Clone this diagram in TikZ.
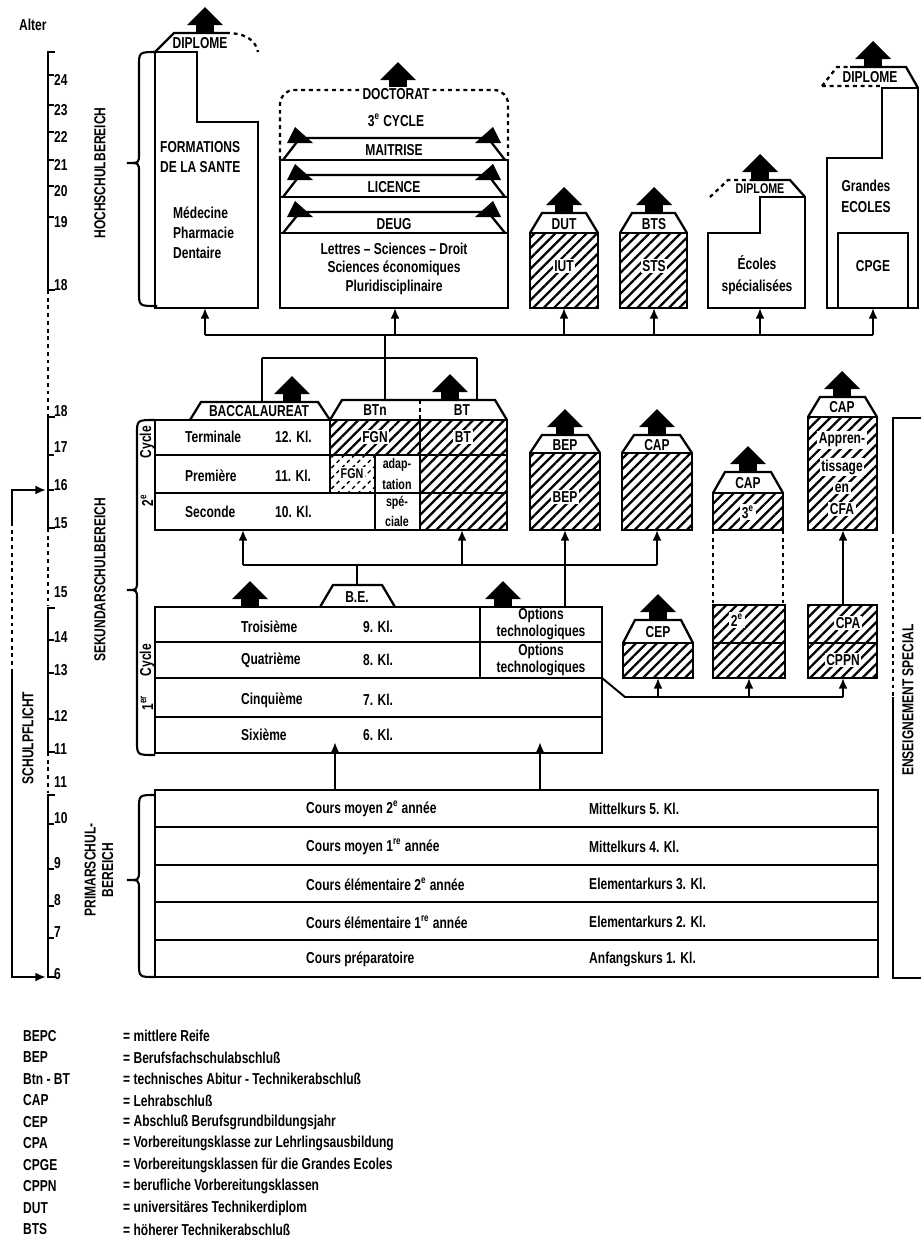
\documentclass[tikz,border=0pt]{standalone}
\usepackage{fontspec}
\setmainfont{Liberation Sans}[FakeStretch=0.76]
\usetikzlibrary{arrows.meta,patterns.meta}
\newcommand{\dfont}{\fontsize{9}{10}\selectfont\bfseries}
\newcommand{\sfont}{\fontsize{8}{9}\selectfont\bfseries}
\tikzset{
  ln/.style={line width=1.3pt},
  dln/.style={line width=1.3pt,dash pattern=on 2.2pt off 2.2pt},
  link/.style={line width=1.1pt},
  uplink/.style={line width=1.1pt,-{Latex[length=6pt,width=5pt]}},
  hatched/.style={ln,pattern={Lines[angle=45,distance=4.2pt,line width=1.3pt]}},
  dhatched/.style={dln,pattern={Lines[angle=45,distance=4.2pt,line width=0.8pt]}},
  lbl/.style={font=\dfont,inner sep=0.5pt},
  wlbl/.style={lbl,fill=white,inner sep=1pt},
  vlbl/.style={lbl,rotate=90},
  brc/.style={line width=1.2pt},
  % pictograms
  pics/bigarrow/.style={code={
    \fill (-9,0) rectangle (9,-9);
    \fill (-18,-8) -- (18,-8) -- (0,-26) -- cycle;
  }},
  pics/bandarrow/.style={code={
    \fill (-13,5) -- (13,5) -- (#1,-11) -- cycle;
  }},
  pics/bandarrow/.default=0,
}
\newcommand{\capat}[4]{\draw[ln] (#1,#3) -- (#1+12,#4) -- (#2-12,#4) -- (#2,#3);}
\newcommand{\sidebrace}[6]{\draw[brc] (#1,#4) .. controls (#2,#4) .. (#2,#4+14) -- (#2,#5-9) .. controls (#2,#5) .. (#3,#5) .. controls (#2,#5) .. (#2,#5+9) -- (#2,#6-14) .. controls (#2,#6) .. (#1,#6);}

\begin{document}
\begin{tikzpicture}[x=0.02cm,y=-0.02cm]
\fill[white] (0,0) rectangle (921,1248);
\useasboundingbox (0,0) rectangle (921,1248);

% age scale
\node[lbl,anchor=west] (alter) at (18,25) {Alter};
\draw[ln] (55,52) -- (48,52) -- (48,290) -- (55,290);
\foreach \a/\y in {24/80,23/110,22/137,21/165,20/191,19/222}{
  \draw[ln] (48,\y-5) -- (54,\y-5);
  \node[lbl,anchor=west] (hu\a) at (53,\y) {\a};
}
\node[lbl,anchor=west] (hu18) at (53,285) {18};
\draw[dln] (48,290) -- (48,417);
\draw[ln] (55,417) -- (48,417) -- (48,528) -- (55,528);
\foreach \a/\y in {18/411,17/447,16/485,15/523}{
  \node[lbl,anchor=west] (ly\a) at (53,\y) {\a};
}
\draw[ln] (48,455) -- (54,455) (48,490) -- (54,490);
\draw[dln] (48,528) -- (48,606);
\node[lbl,anchor=west] (co15) at (53,592) {15};
\draw[ln] (55,608) -- (48,608) -- (48,752) -- (55,752);
\foreach \a/\y in {14/637,13/670,12/716,11/749}{
  \draw[ln] (48,\y+3) -- (54,\y+3);
  \node[lbl,anchor=west] (co\a) at (53,\y) {\a};
}
\draw[dln] (48,752) -- (48,793);
\node[lbl,anchor=west] (pr11) at (53,782) {11};
\draw[ln] (55,795) -- (48,795) -- (48,977) -- (55,977);
\foreach \a/\y in {10/818,9/863,8/900,7/932}{
  \draw[ln] (48,\y+6) -- (54,\y+6);
  \node[lbl,anchor=west] (pr\a) at (53,\y) {\a};
}
\node[lbl,anchor=west] (pr6) at (53,974) {6};

% compulsory schooling
\coordinate (sp16) at (46,490);
\coordinate (sp6) at (46,977);
\draw[ln,-{Latex[length=6pt,width=5pt]}] (12,522) -- (12,490) -- (sp16);
\draw[dln] (12,522) -- (12,670);
\draw[ln,-{Latex[length=6pt,width=5pt]}] (12,670) -- (12,977) -- (sp6);
\node[vlbl] (pflicht) at (28,738) {SCHULPFLICHT};

\node[vlbl] (hochsch) at (100,173) {HOCHSCHULBEREICH};
\node[vlbl] (sekund) at (100,580) {SEKUNDARSCHULBEREICH};
\node[vlbl,align=center] (primar) at (99,870) {PRIMARSCHUL-\\BEREICH};
\sidebrace{157}{139}{127}{52}{163}{306}
\sidebrace{155}{137}{127}{420}{590}{755}
\sidebrace{155}{139}{127}{795}{880}{977}

% higher education
\draw[ln] (155,52) -- (197,52) -- (197,122) -- (258,122) -- (258,308) -- (155,308) -- cycle;
\draw[ln] (155,52) -- (174,33) -- (226,33);
\draw[dln] (226,33) .. controls (248,33) and (256,42) .. (258,52);
\node[lbl] (dipl1) at (200,43) {DIPLOME};
\pic at (205,33) {bigarrow};
\node[lbl,anchor=west] (form) at (159,147) {FORMATIONS};
\node[lbl,anchor=west] (sante) at (159,167) {DE LA SANTE};
\node[lbl,anchor=west] (medi) at (172,213) {Médecine};
\node[lbl,anchor=west] (phar) at (172,233) {Pharmacie};
\node[lbl,anchor=west] (dent) at (172,253) {Dentaire};

\draw[dln,rounded corners=8] (280,160) -- (280,90) -- (508,90) -- (508,160);
\pic at (398,88) {bigarrow};
\node[wlbl] (doct) at (396,94) {DOCTORAT};
\node[lbl] (cycle3) at (396,120) {3\textsuperscript{e} CYCLE};
\draw[ln] (280,160) rectangle (508,308);
\draw[ln] (280,197) -- (508,197) (280,233) -- (508,233);
\foreach \t/\b/\n in {138/160/MAITRISE,175/197/LICENCE,212/233/DEUG}{
  \draw[ln] (283,\b) -- (300,\t) -- (488,\t) -- (505,\b);
  \pic at (300,\t) {bandarrow=-5};
  \pic at (488,\t) {bandarrow=5};
  \node[lbl] (band\n) at (394,\t+12) {\n};
}
\node[lbl] (lettres) at (394,249) {Lettres -- Sciences -- Droit};
\node[lbl] (scieco) at (394,268) {Sciences économiques};
\node[lbl] (pluri) at (394,287) {Pluridisciplinaire};

\draw[hatched] (530,233) rectangle (598,308);
\capat{530}{598}{233}{213}
\node[lbl] (dut) at (564,224) {DUT};
\node[wlbl] (iut) at (564,266) {IUT};
\pic at (564,213) {bigarrow};
\draw[hatched] (620,233) rectangle (687,308);
\capat{620}{687}{233}{213}
\node[lbl] (bts) at (654,224) {BTS};
\node[wlbl] (sts) at (654,266) {STS};
\pic at (654,213) {bigarrow};

\draw[ln] (708,233) -- (760,233) -- (760,197) -- (805,197) -- (805,308) -- (708,308) -- cycle;
\draw[dln] (710,197) -- (728,180) -- (750,180);
\draw[ln] (750,180) -- (790,180) -- (805,197);
\node[lbl,font=\sfont] (dipl2) at (760,189) {DIPLOME};
\pic at (760,180) {bigarrow};
\node[lbl] (ecoles) at (757,263) {Écoles};
\node[lbl] (special) at (757,287) {spécialisées};

\draw[ln] (827,158) -- (882,158) -- (882,88) -- (918,88) -- (918,308) -- (827,308) -- cycle;
\draw[dln] (822,86) -- (837,67) -- (850,67) (822,86) -- (880,86);
\draw[ln] (850,67) -- (906,67) -- (918,88);
\node[lbl] (dipl3) at (870,77) {DIPLOME};
\pic at (873,67) {bigarrow};
\node[lbl] (grandes) at (866,186) {Grandes};
\node[lbl] (gecoles) at (866,207) {ECOLES};
\draw[ln] (838,233) rectangle (908,308);
\node[lbl] (cpge) at (873,266) {CPGE};

% links to higher education
\coordinate (form-b) at (205,308);
\coordinate (univ-b) at (395,308);
\coordinate (iut-b) at (564,308);
\coordinate (sts-b) at (654,308);
\coordinate (ecol-b) at (760,308);
\coordinate (cpge-b) at (873,308);
\coordinate (hub1) at (385,335);
\coordinate (hub2) at (385,358);
\coordinate (bac-t) at (262,402);
\coordinate (btn-t) at (385,400);
\coordinate (bt-t) at (477,400);
\draw[link] (form-b |- hub1) -- (cpge-b |- hub1);
\foreach \b in {form-b,univ-b,iut-b,sts-b,ecol-b,cpge-b}
  \draw[uplink] (\b |- hub1) -- (\b);
\draw[link] (hub1) -- (btn-t);
\draw[link] (bac-t |- hub2) -- (bt-t |- hub2);
\draw[link] (bac-t |- hub2) -- (bac-t);
\draw[link] (bt-t |- hub2) -- (bt-t);

% lycee
\draw[ln] (155,420) rectangle (330,493);
\draw[ln] (155,455) -- (330,455);
\draw[ln] (155,493) rectangle (375,530);
\draw[hatched] (330,420) rectangle (420,455);
\draw[dhatched] (330,455) rectangle (375,493);
\draw[ln] (375,455) rectangle (420,530);
\draw[ln] (375,493) -- (420,493);
\draw[hatched] (420,420) rectangle (507,530);
\draw[ln] (420,455) -- (507,455) (420,493) -- (507,493);
\capat{330}{507}{420}{400}
\draw[dln] (420,400) -- (420,420);
\node[lbl] (btn) at (375,410) {BTn};
\node[lbl] (bt) at (462,410) {BT};
\draw[ln] (190,420) -- (201,402) -- (318,402) -- (330,420);
\node[lbl] (bac) at (259,411) {BACCALAUREAT};
\pic at (292,402) {bigarrow};
\pic at (450,400) {bigarrow};
\node[lbl,anchor=west] (term) at (184,437) {Terminale};
\node[lbl,anchor=west] (term-k) at (274,437) {12. Kl.};
\node[lbl,anchor=west] (prem) at (184,476) {Première};
\node[lbl,anchor=west] (prem-k) at (274,476) {11. Kl.};
\node[lbl,anchor=west] (seco) at (184,512) {Seconde};
\node[lbl,anchor=west] (seco-k) at (274,512) {10. Kl.};
\node[wlbl] (fgn1) at (375,437) {FGN};
\node[wlbl,font=\sfont] (fgn2) at (352,474) {FGN};
\node[lbl,font=\sfont] (adap1) at (397,465) {adap-};
\node[lbl,font=\sfont] (adap2) at (397,484) {tation};
\node[lbl,font=\sfont] (adap3) at (397,503) {spé-};
\node[lbl,font=\sfont] (adap4) at (397,521) {ciale};
\node[wlbl] (bt2) at (463,437) {BT};
\node[vlbl] (cyc2) at (147,442) {Cycle};
\node[vlbl] (cyc2n) at (147,500) {2\textsuperscript{e}};

% vocational
\draw[hatched] (530,453) rectangle (600,530);
\capat{530}{600}{453}{435}
\node[lbl] (bep) at (565,445) {BEP};
\node[wlbl] (bep2) at (565,497) {BEP};
\pic at (565,435) {bigarrow};
\draw[hatched] (622,453) rectangle (692,530);
\capat{622}{692}{453}{435}
\node[lbl] (cap1) at (657,445) {CAP};
\pic at (657,435) {bigarrow};
\draw[hatched] (713,493) rectangle (783,530);
\capat{713}{783}{493}{472}
\node[lbl] (cap2) at (748,483) {CAP};
\node[wlbl] (cap2n) at (748,512) {3\textsuperscript{e}};
\pic at (748,472) {bigarrow};
\draw[dln] (713,530) -- (713,605) (783,530) -- (783,605);
\draw[hatched] (808,417) rectangle (877,530);
\capat{808}{877}{417}{397}
\node[lbl] (cap3) at (842,407) {CAP};
\pic at (842,397) {bigarrow};
\node[wlbl] (appr1) at (842,440) {Appren-};
\node[wlbl] (appr2) at (842,467) {tissage};
\node[wlbl] (appr3) at (842,488) {en};
\node[wlbl] (appr4) at (842,509) {CFA};

\draw[ln] (921,418) -- (893,418) -- (893,530);
\draw[dln] (893,530) -- (893,697);
\draw[ln] (893,697) -- (893,978) -- (921,978);
\node[vlbl] (spec) at (908,700) {ENSEIGNEMENT SPECIAL};

% links lycee
\coordinate (lyc-b) at (243,530);
\coordinate (bt-b) at (462,530);
\coordinate (bep-b) at (565,530);
\coordinate (cap1-b) at (657,530);
\coordinate (be-t) at (357,585);
\coordinate (opt-t) at (565,607);
\coordinate (hub3) at (357,565);
\draw[link] (lyc-b |- hub3) -- (cap1-b |- hub3);
\foreach \b in {lyc-b,bt-b,cap1-b}
  \draw[uplink] (\b |- hub3) -- (\b);
\draw[uplink] (opt-t) -- (bep-b);
\draw[link] (hub3) -- (be-t);

% college
\draw[ln] (155,607) rectangle (602,753);
\draw[ln] (155,642) -- (602,642) (155,678) -- (602,678) (155,717) -- (602,717) (480,607) -- (480,678);
\foreach \n/\k/\y in {Troisième/9/627,Quatrième/8/660,Cinquième/7/700,Sixième/6/735}{
  \node[lbl,anchor=west] (cl\k) at (240,\y) {\n};
  \node[lbl,anchor=west] (cl\k-k) at (362,\y) {\k. Kl.};
}
\node[lbl,align=center] (opt1) at (541,624) {Options\\technologiques};
\node[lbl,align=center] (opt2) at (541,660) {Options\\technologiques};
\draw[ln] (320,607) -- (333,585) -- (382,585) -- (395,607);
\node[lbl] (be) at (357,597) {B.E.};
\pic at (250,607) {bigarrow};
\pic at (503,607) {bigarrow};
\node[vlbl] (cyc1) at (147,660) {Cycle};
\node[vlbl] (cyc1n) at (147,703) {1\textsuperscript{er}};

\draw[hatched] (623,643) rectangle (693,678);
\capat{623}{693}{643}{620}
\node[lbl] (cep) at (658,632) {CEP};
\pic at (658,620) {bigarrow};
\draw[hatched] (713,605) rectangle (785,678);
\draw[ln] (713,643) -- (785,643);
\node[wlbl] (second) at (737,620) {2\textsuperscript{e}};
\draw[hatched] (808,605) rectangle (877,678);
\draw[ln] (808,643) -- (877,643);
\node[wlbl] (cpa) at (848,623) {CPA};
\node[wlbl] (cppn) at (843,660) {CPPN};

\coordinate (opt-c) at (602,678);
\coordinate (knee) at (625,697);
\coordinate (cep-b) at (658,678);
\coordinate (cl2-b) at (749,678);
\coordinate (cpa-b) at (843,678);
\coordinate (cpa-t) at (843,605);
\coordinate (appr-b) at (843,530);
\draw[link] (opt-c) -- (knee) -- (cpa-b |- knee);
\foreach \b in {cep-b,cl2-b,cpa-b}
  \draw[uplink] (\b |- knee) -- (\b);
\draw[uplink] (cpa-t) -- (appr-b);

% primary
\draw[ln] (155,790) rectangle (878,977);
\foreach \y in {827,865,902,940} \draw[ln] (155,\y) -- (878,\y);
\coordinate (prim-a) at (335,790);
\coordinate (prim-b) at (540,790);
\draw[uplink] (prim-a) -- (prim-a |- cl6.south);
\draw[uplink] (prim-b) -- (prim-b |- cl6.south);
\foreach \f/\g/\y [count=\i] in {Cours moyen 2\textsuperscript{e} année/Mittelkurs 5. Kl./809,
  Cours moyen 1\textsuperscript{re} année/Mittelkurs 4. Kl./847,
  Cours élémentaire 2\textsuperscript{e} année/Elementarkurs 3. Kl./884,
  Cours élémentaire 1\textsuperscript{re} année/Elementarkurs 2. Kl./922,
  Cours préparatoire/Anfangskurs 1. Kl./959}{
  \node[lbl,anchor=west] (fr\i) at (305,\y) {\f};
  \node[lbl,anchor=west] (de\i) at (588,\y) {\g};
}

% legend
\foreach \s/\t [count=\i from 0] in {BEPC/mittlere Reife,BEP/Berufsfachschulabschluß,
  Btn - BT/technisches Abitur - Technikerabschluß,CAP/Lehrabschluß,
  CEP/Abschluß Berufsgrundbildungsjahr,CPA/Vorbereitungsklasse zur Lehrlingsausbildung,
  CPGE/Vorbereitungsklassen für die Grandes Ecoles,CPPN/berufliche Vorbereitungsklassen,
  DUT/universitäres Technikerdiplom,BTS/höherer Technikerabschluß}{
  \node[lbl,anchor=west] (ab\i) at (22,1036+21.5*\i) {\s};
  \node[lbl,anchor=west] (ex\i) at (122,1036+21.5*\i) {= \t};
}
\end{tikzpicture}
\end{document}
